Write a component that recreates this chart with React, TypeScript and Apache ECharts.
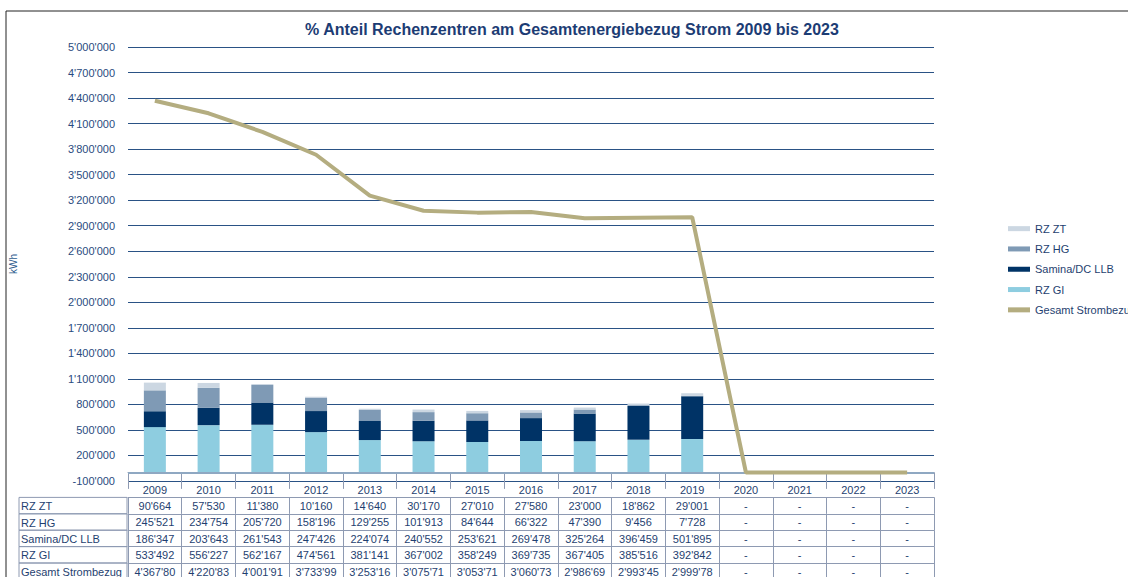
import React, { useEffect, useRef } from "react";
import * as echarts from "echarts";

const years = ["2009", "2010", "2011", "2012", "2013", "2014", "2015", "2016", "2017", "2018", "2019", "2020", "2021", "2022", "2023"];
const rzZT = [90664, 57530, 11380, 10160, 14640, 30170, 27010, 27580, 23000, 18862, 29001, 0, 0, 0, 0];
const rzHG = [245521, 234754, 205720, 158196, 129255, 101913, 84644, 66322, 47390, 9456, 7728, 0, 0, 0, 0];
const samina = [186347, 203643, 261543, 247426, 224074, 240552, 253621, 269478, 325264, 396459, 501895, 0, 0, 0, 0];
const rzGI = [533492, 556227, 562167, 474561, 381141, 367002, 358249, 369735, 367405, 385516, 392842, 0, 0, 0, 0];
const gesamt = [4367800, 4220830, 4001910, 3733990, 3253160, 3075710, 3053710, 3060730, 2986690, 2993450, 2999780, 0, 0, 0, 0];

const seriesNames = ["RZ ZT", "RZ HG", "Samina/DC LLB", "RZ GI", "Gesamt Strombezug"];
const tableRows = [rzZT, rzHG, samina, rzGI, gesamt];

const NAVY = "#1F3F70";
const BORDER = "#8E9AB2";
const GRID_LEFT = 127;
const GRID_RIGHT = 194;
const GRID_TOP = 47;
const GRID_BOTTOM = 96;
const ROW_H = 16.4;
const TABLE_TOP = 577 - GRID_BOTTOM;

function fmt(v: number): string {
  if (v === 0) return "-";
  return String(v).replace(/\B(?=(\d{3})+(?!\d))/g, "'");
}

export default function App() {
  const ref = useRef<HTMLDivElement>(null);
  useEffect(() => {
    if (!ref.current) return;
    const chart = echarts.init(ref.current, null, { renderer: "svg" });

    const tableFont = "'Liberation Sans', Arial, sans-serif";
    const xAxes: any[] = [
      {
        type: "category",
        data: years,
        gridIndex: 0,
        position: "bottom",
        offset: 0,
        axisLine: { show: true, lineStyle: { color: BORDER, width: 1 } },
        axisTick: { show: true, interval: 0, length: ROW_H, lineStyle: { color: BORDER } },
        axisLabel: { interval: 0, margin: 3, fontSize: 11, color: NAVY, fontFamily: tableFont },
      },
    ];
    tableRows.forEach((arr, k) => {
      xAxes.push({
        type: "category",
        data: years,
        gridIndex: 0,
        position: "bottom",
        offset: ROW_H * (k + 1),
        axisLine: { show: true, lineStyle: { color: BORDER, width: 1 } },
        axisTick: { show: true, interval: 0, length: ROW_H, lineStyle: { color: BORDER } },
        axisLabel: {
          interval: 0,
          margin: 3,
          fontSize: 11,
          color: NAVY,
          fontFamily: tableFont,
          formatter: (_v: string, i: number) => {
            const s = fmt(arr[i]);
            return s.length > 8 ? s.slice(0, 8) : s;
          },
        },
      });
    });

    const graphics: any[] = [
      {
        type: "rect",
        z: -10,
        shape: { x: 6, y: 11, width: 1300, height: 800 },
        style: { fill: "none", stroke: "#222222", lineWidth: 1 },
        silent: true,
      },
      {
        type: "text",
        x: 572,
        y: 29,
        style: {
          text: "% Anteil Rechenzentren am Gesamtenergiebezug Strom 2009 bis 2023",
          fontFamily: "'Liberation Sans', Arial, sans-serif",
          fontWeight: "bold",
          fontSize: 16,
          fill: "#1C3C74",
          align: "center",
          verticalAlign: "middle",
        },
      },
    ];
    seriesNames.forEach((name, k) => {
      const y = TABLE_TOP + ROW_H * (k + 1);
      graphics.push({
        type: "rect",
        shape: { x: 19, y, width: GRID_LEFT - 19, height: ROW_H },
        style: { fill: "none", stroke: BORDER, lineWidth: 1 },
        silent: true,
      });
      graphics.push({
        type: "text",
        x: 21,
        y: y + ROW_H / 2 + 0.5,
        style: {
          text: name,
          fontFamily: "'Liberation Sans', Arial, sans-serif",
          fontSize: 11,
          fill: NAVY,
          align: "left",
          verticalAlign: "middle",
        },
      });
    });

    const barCommon = { type: "bar", stack: "rz", barWidth: 22, xAxisIndex: 0, yAxisIndex: 0 };

    chart.setOption({
      animation: false,
      textStyle: { fontFamily: "'Liberation Sans', Arial, sans-serif" },
      grid: { left: GRID_LEFT, right: GRID_RIGHT, top: GRID_TOP, bottom: GRID_BOTTOM, containLabel: false },
      legend: {
        data: seriesNames,
        orient: "vertical",
        left: 1008,
        top: 222,
        padding: 0,
        icon: "rect",
        itemWidth: 22,
        itemHeight: 5,
        itemGap: 7,
        textStyle: { fontSize: 11, color: NAVY, lineHeight: 13.3 },
      },
      xAxis: xAxes,
      yAxis: {
        type: "value",
        min: -100000,
        max: 5000000,
        interval: 300000,
        name: "kWh",
        nameLocation: "middle",
        nameRotate: 90,
        nameGap: 110,
        nameTextStyle: { fontSize: 10, color: "#2E5C8E" },
        axisLine: { show: false },
        axisTick: { show: false },
        axisLabel: { fontSize: 11, color: "#2A4B80", margin: 13, formatter: (v: number) => (v === 0 ? "0" : fmt(v)) },
        splitLine: { show: true, lineStyle: { color: "#2A5285", width: 1 } },
      },
      graphic: graphics,
      series: [
        {
          ...barCommon,
          name: "RZ GI",
          data: rzGI,
          itemStyle: { color: "#8ECDE0" },
          markLine: {
            silent: true,
            symbol: "none",
            label: { show: false },
            lineStyle: { color: "#8FA8C2", width: 2, type: "solid" },
            data: [{ yAxis: 0 }],
          },
        },
        { ...barCommon, name: "Samina/DC LLB", data: samina, itemStyle: { color: "#003366" } },
        { ...barCommon, name: "RZ HG", data: rzHG, itemStyle: { color: "#7F9AB5" } },
        { ...barCommon, name: "RZ ZT", data: rzZT, itemStyle: { color: "#CCD7E2" } },
        {
          type: "line",
          name: "Gesamt Strombezug",
          data: gesamt,
          xAxisIndex: 0,
          yAxisIndex: 0,
          symbol: "none",
          z: 5,
          lineStyle: { color: "#B4AD80", width: 4 },
          itemStyle: { color: "#B4AD80" },
        },
      ],
    });
    return () => chart.dispose();
  }, []);
  return <div ref={ref} style={{ position: "absolute", left: 0, top: 0, width: 1128, height: 577 }} />;
}
